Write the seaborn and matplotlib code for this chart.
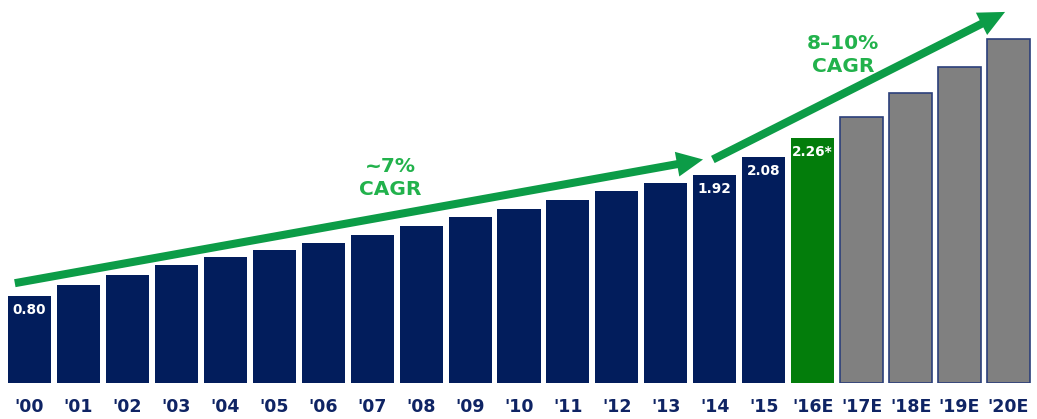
import matplotlib
matplotlib.use("Agg")
import matplotlib.pyplot as plt
import seaborn as sns
import pandas as pd

years = ["'00", "'01", "'02", "'03", "'04", "'05", "'06", "'07", "'08", "'09", "'10",
         "'11", "'12", "'13", "'14", "'15", "'16E", "'17E", "'18E", "'19E", "'20E"]
values = [0.80, 0.90, 1.00, 1.09, 1.16, 1.23, 1.29, 1.36, 1.45, 1.53, 1.60,
          1.69, 1.77, 1.84, 1.92, 2.08, 2.26, 2.45, 2.67, 2.91, 3.17]
kinds = ["actual"] * 16 + ["current"] + ["forecast"] * 4
value_labels = {0: "0.80", 14: "1.92", 15: "2.08", 16: "2.26*"}
growth_labels = ["~7%\nCAGR", "8\u201310%\nCAGR"]

NAVY = "#021d5c"
GREEN_BAR = "#037d0b"
GRAY = "#808080"
ARROW = "#0c9c47"
TEXT_GREEN = "#22b24c"
kind_colors = {"actual": NAVY, "current": GREEN_BAR, "forecast": GRAY}

df = pd.DataFrame({"year": years, "value": values, "kind": kinds})

sns.set_theme(style="white")
plt.rcParams["font.family"] = ["DejaVu Sans"]

fig = plt.figure(figsize=(10.37, 4.19), dpi=100)
ax = fig.add_axes([0, 36 / 419, 1, 383 / 419])

palette = [kind_colors[k] for k in kinds]
sns.barplot(data=df, x="year", y="value", hue="year", palette=palette,
            legend=False, width=0.88, ax=ax, saturation=1)

for i, p in enumerate(ax.patches):
    if kinds[i] == "forecast":
        p.set_edgecolor("#2b3f7a")
        p.set_linewidth(1.2)
    else:
        p.set_edgecolor("none")

ax.set_xlim(-29.5 / 48.95, (1037 - 29.5) / 48.95)
ax.set_ylim(0, 383 / 108.5)
for s in ax.spines.values():
    s.set_visible(False)
ax.set_yticks([])
ax.set_xlabel("")
ax.set_ylabel("")
ax.tick_params(axis="x", length=0, pad=11)
for t in ax.get_xticklabels():
    t.set_fontweight("bold")
    t.set_fontsize(12.5)
    t.set_color("#0f2464")

for i, lab in value_labels.items():
    ax.text(i, values[i] - 0.13, lab, ha="center", va="center", color="white",
            fontsize=9.8, fontweight="bold")

arrowstyle = "simple,tail_width=0.29,head_width=0.9,head_length=0.95"
ax.annotate("", xy=(13.76, 2.06), xytext=(-0.3, 0.92),
            arrowprops=dict(arrowstyle=arrowstyle, mutation_scale=20,
                            color=ARROW, shrinkA=0, shrinkB=0, lw=0),
            annotation_clip=False)
ax.annotate("", xy=(19.93, 3.42), xytext=(13.96, 2.06),
            arrowprops=dict(arrowstyle=arrowstyle, mutation_scale=20,
                            color=ARROW, shrinkA=0, shrinkB=0, lw=0),
            annotation_clip=False)

ax.text((390 - 29.5) / 48.95, (383 - 178) / 108.5, growth_labels[0], ha="center",
        va="center", color=TEXT_GREEN, fontsize=14.5, fontweight="bold", linespacing=1.3)
ax.text((843 - 29.5) / 48.95, (383 - 55) / 108.5, growth_labels[1], ha="center",
        va="center", color=TEXT_GREEN, fontsize=14.5, fontweight="bold", linespacing=1.3)

fig.savefig("out.png", dpi=100)
